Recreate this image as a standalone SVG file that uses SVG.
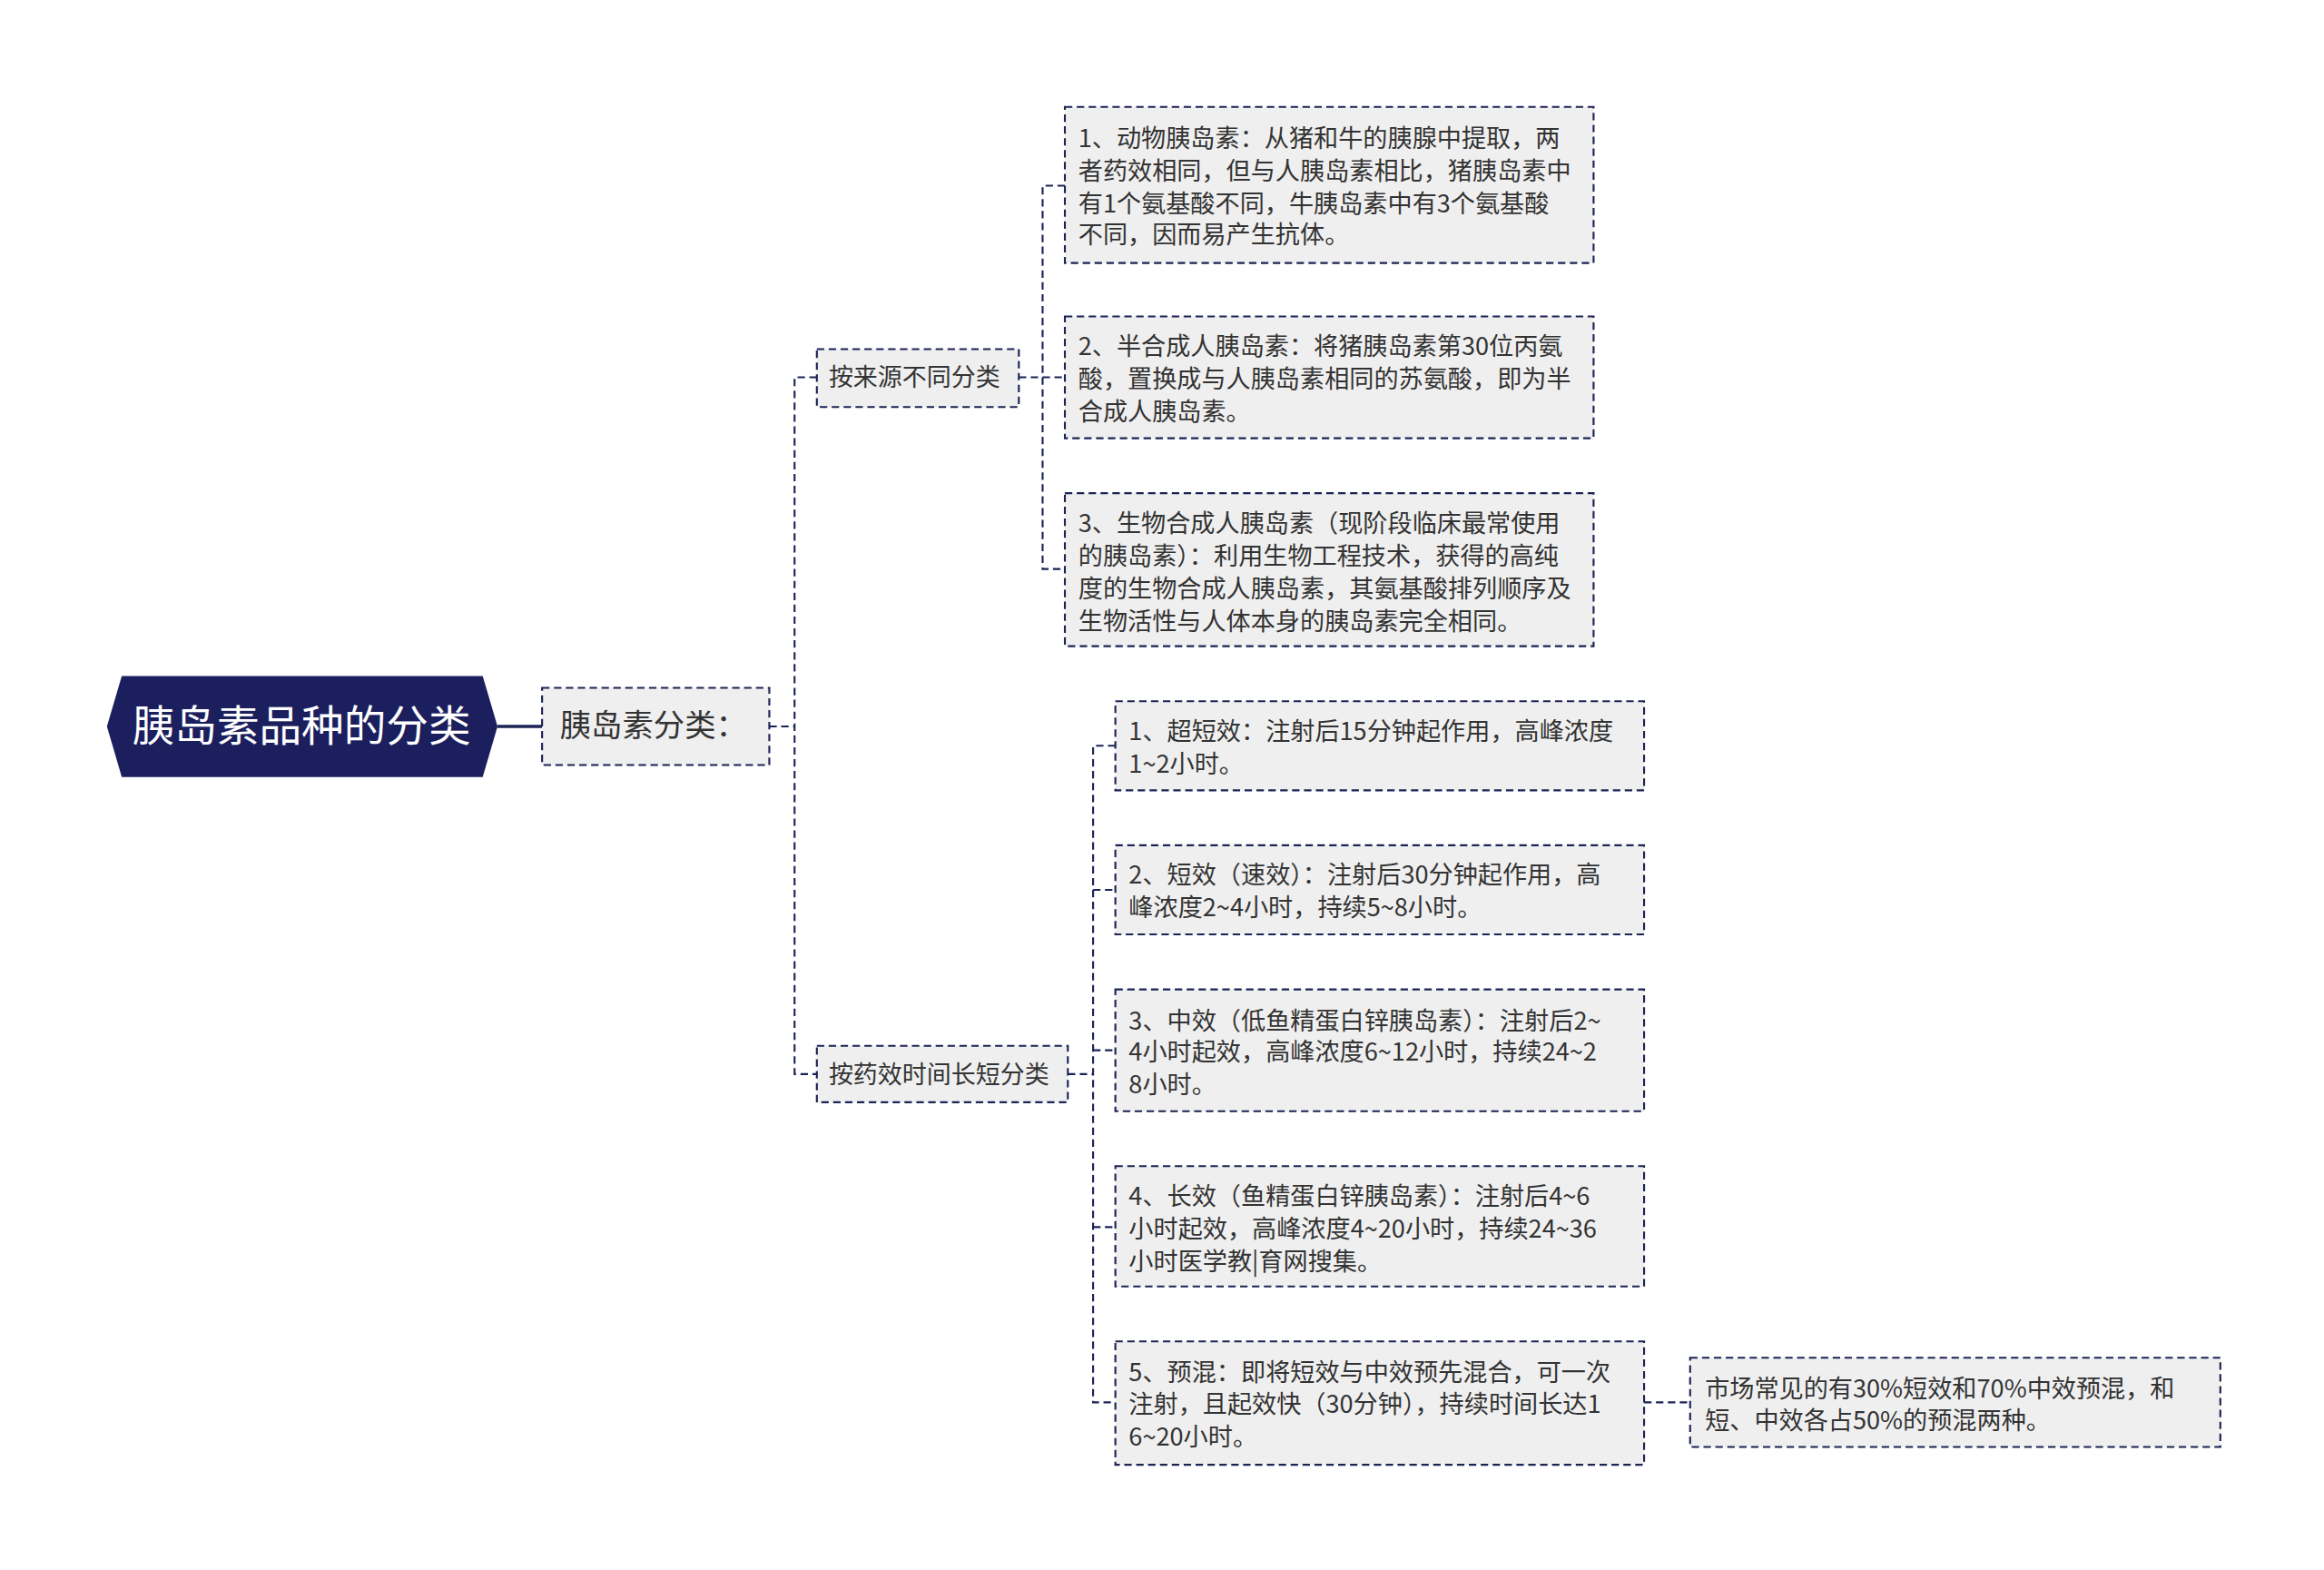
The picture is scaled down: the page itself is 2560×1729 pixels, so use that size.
<svg xmlns="http://www.w3.org/2000/svg" width="2560" height="1729" viewBox="0 0 2560 1729">
<style>
.box{fill:#efefef;stroke:#1c2355;stroke-width:1.3;stroke-dasharray:5,3}
.con{fill:none;stroke:#1c2355;stroke-width:1.3;stroke-dasharray:5,3}
.t{font-family:"Noto Sans CJK SC","Noto Sans",sans-serif;font-size:16.6px;fill:#333}
.m{font-family:"Noto Sans CJK SC","Noto Sans",sans-serif;font-size:16.5px;fill:#333}
</style>
<rect width="2560" height="1729" fill="#fff"/>
<g transform="scale(1.636)">
<g id="connectors">
<line x1="335" y1="489" x2="365" y2="489" stroke="#1c2355" stroke-width="2"/>
<path class="con" d="M518,489H535M550,254H535V723H550"/>
<path class="con" d="M686,254H702M717,125H702V383H717M702,254H717"/>
<path class="con" d="M719,723H736M751,502H736V944H751M736,599H751M736,707H751M736,826H751"/>
<path class="con" d="M1107,944H1138"/>
</g>
<g id="root">
<polygon points="82,455 325,455 335,489 325,523 82,523 72,489" fill="#1b1f5e"/>
<text x="203" y="499" text-anchor="middle" font-family="Noto Sans CJK SC,Noto Sans,sans-serif" font-size="28.5" fill="#fff">胰岛素品种的分类</text>
</g>
<g id="n1"><rect class="box" x="365" y="463" width="153" height="52"/><text x="377" y="496" font-family="Noto Sans CJK SC,Noto Sans,sans-serif" font-size="21" fill="#333">胰岛素分类：</text></g>
<g id="n2"><rect class="box" x="550" y="235" width="136" height="39"/><text class="m" x="558" y="260">按来源不同分类</text></g>
<g id="n3"><rect class="box" x="550" y="704" width="169" height="38"/><text class="m" x="558" y="729">按药效时间长短分类</text></g>
<g id="a1"><rect class="box" x="717" y="72" width="356" height="105"/><text class="t"><tspan x="726" y="99">1、动物胰岛素：从猪和牛的胰腺中提取，两</tspan><tspan x="726" y="121">者药效相同，但与人胰岛素相比，猪胰岛素中</tspan><tspan x="726" y="143">有1个氨基酸不同，牛胰岛素中有3个氨基酸</tspan><tspan x="726" y="164">不同，因而易产生抗体。</tspan></text></g>
<g id="a2"><rect class="box" x="717" y="213" width="356" height="82"/><text class="t"><tspan x="726" y="239">2、半合成人胰岛素：将猪胰岛素第30位丙氨</tspan><tspan x="726" y="261">酸，置换成与人胰岛素相同的苏氨酸，即为半</tspan><tspan x="726" y="283">合成人胰岛素。</tspan></text></g>
<g id="a3"><rect class="box" x="717" y="332" width="356" height="103"/><text class="t"><tspan x="726" y="358">3、生物合成人胰岛素（现阶段临床最常使用</tspan><tspan x="726" y="380">的胰岛素）：利用生物工程技术，获得的高纯</tspan><tspan x="726" y="402">度的生物合成人胰岛素，其氨基酸排列顺序及</tspan><tspan x="726" y="424">生物活性与人体本身的胰岛素完全相同。</tspan></text></g>
<g id="b1"><rect class="box" x="751" y="472" width="356" height="60"/><text class="t"><tspan x="760" y="498">1、超短效：注射后15分钟起作用，高峰浓度</tspan><tspan x="760" y="520">1~2小时。</tspan></text></g>
<g id="b2"><rect class="box" x="751" y="569" width="356" height="60"/><text class="t"><tspan x="760" y="595">2、短效（速效）：注射后30分钟起作用，高</tspan><tspan x="760" y="617">峰浓度2~4小时，持续5~8小时。</tspan></text></g>
<g id="b3"><rect class="box" x="751" y="666" width="356" height="82"/><text class="t"><tspan x="760" y="693">3、中效（低鱼精蛋白锌胰岛素）：注射后2~</tspan><tspan x="760" y="714">4小时起效，高峰浓度6~12小时，持续24~2</tspan><tspan x="760" y="736">8小时。</tspan></text></g>
<g id="b4"><rect class="box" x="751" y="785" width="356" height="81"/><text class="t"><tspan x="760" y="811">4、长效（鱼精蛋白锌胰岛素）：注射后4~6</tspan><tspan x="760" y="833">小时起效，高峰浓度4~20小时，持续24~36</tspan><tspan x="760" y="855">小时医学教|育网搜集。</tspan></text></g>
<g id="b5"><rect class="box" x="751" y="903" width="356" height="83"/><text class="t"><tspan x="760" y="930">5、预混：即将短效与中效预先混合，可一次</tspan><tspan x="760" y="951">注射，且起效快（30分钟），持续时间长达1</tspan><tspan x="760" y="973">6~20小时。</tspan></text></g>
<g id="c1"><rect class="box" x="1138" y="914" width="357" height="60"/><text class="t"><tspan x="1148" y="941">市场常见的有30%短效和70%中效预混，和</tspan><tspan x="1148" y="962">短、中效各占50%的预混两种。</tspan></text></g>
</g>
</svg>
